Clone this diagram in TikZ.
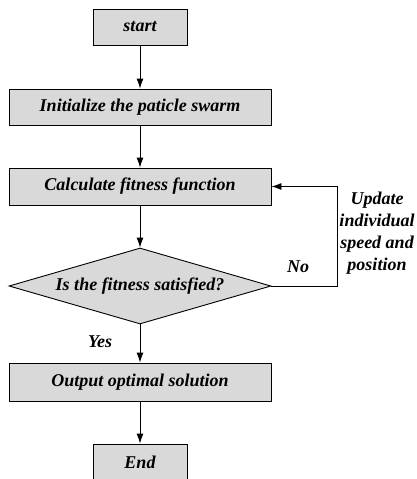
\documentclass[tikz,border=0pt]{standalone}
\usepackage{fontspec}
\setmainfont{Liberation Serif}
\usetikzlibrary{shapes.geometric,arrows.meta}
\definecolor{boxgray}{HTML}{D9D9D9}
\tikzset{
  procbox/.style={draw=black, line width=0.9pt, fill=boxgray, rectangle, minimum height=36pt, inner sep=0pt, font=\bfseries\itshape\fontsize{18}{21}\selectfont},
  decbox/.style={draw=black, line width=0.9pt, fill=boxgray, diamond, minimum width=262pt, minimum height=76pt, inner sep=0pt, shape aspect=3.45, font=\bfseries\itshape\fontsize{18}{21}\selectfont},
  lbl/.style={font=\bfseries\itshape\fontsize{18}{21}\selectfont, inner sep=0pt},
  arr/.style={line width=0.9pt, -{Latex[length=10pt,width=7pt]}}
}
\begin{document}
\begin{tikzpicture}[x=1pt,y=-1pt]
\useasboundingbox (0,0) rectangle (417,479);
\node[procbox, minimum width=94pt] (start) at (140,27) {start};
\node[procbox, minimum width=262pt] (init) at (140,107) {Initialize the paticle swarm};
\node[procbox, minimum width=262pt, minimum height=37pt] (calc) at (140,186.5) {Calculate fitness function};
\node[decbox] (dia) at (140,286) {Is the fitness satisfied?};
\node[procbox, minimum width=262pt, minimum height=38pt] (out) at (140,382) {Output optimal solution};
\node[procbox, minimum width=94pt] (end) at (140,462) {End};
\coordinate (fb) at (337,286);
\draw[arr] (start) -- (init);
\draw[arr] (init) -- (calc);
\draw[arr] (calc) -- (dia);
\draw[arr] (dia) -- (out);
\draw[arr] (out) -- (end);
\draw[arr] (dia.east) -- (fb) |- (calc.east);
\node[lbl] (no) at (298,267) {No};
\node[lbl] (yes) at (100,342) {Yes};
\node[lbl, align=center, font=\bfseries\itshape\fontsize{18}{22}\selectfont] (upd) at (377,233) {Update\\individual\\speed and\\position};
\end{tikzpicture}
\end{document}
